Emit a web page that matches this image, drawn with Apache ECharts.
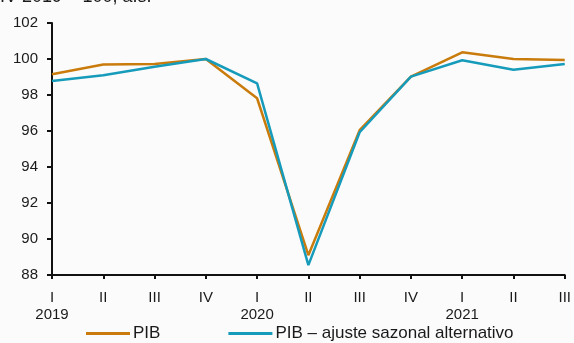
<!DOCTYPE html>
<html>
<head>
<meta charset="utf-8">
<script src="https://cdn.jsdelivr.net/npm/echarts@6/dist/echarts.min.js"></script>
<style>
  html, body { margin: 0; padding: 0; background: #fbfbfb; }
  #chart { width: 574px; height: 343px; }
</style>
</head>
<body>
<div id="chart"></div>
<script>
// Quarterly categories (quarter, with year on the first quarter)
const quarters = ['I\n2019', 'II', 'III', 'IV', 'I\n2020', 'II', 'III', 'IV', 'I\n2021', 'II', 'III'];

// GDP index, IV 2019 = 100, seasonally adjusted
const pib = [99.15, 99.7, 99.72, 100.0, 97.82, 89.1, 96.05, 99.02, 100.37, 100.0, 99.95];

// GDP with alternative seasonal adjustment
const pibAlt = [98.78, 99.1, 99.57, 100.0, 98.65, 88.55, 95.93, 99.02, 99.93, 99.4, 99.72];

const yMin = 88, yMax = 102, yStep = 2;

const chart = echarts.init(document.getElementById('chart'), null, { renderer: 'canvas' });

const axisColor = '#111';
const fontFamily = '"Liberation Sans", Arial, sans-serif';
const textStyle = { color: '#1a1a1a', fontFamily: fontFamily, fontSize: 15 };

chart.setOption({
  backgroundColor: '#fbfbfb',
  animation: false,
  graphic: [{
    type: 'text',
    left: 0,
    top: -12,
    style: { text: 'IV 2019 = 100, a.s.', fill: '#1a1a1a', font: '18px ' + fontFamily }
  }],
  grid: { left: 52, right: 6, top: 23, bottom: 68, containLabel: false },
  legend: {
    top: 325,
    left: 86,
    padding: 0,
    itemGap: 68,
    itemWidth: 44,
    itemHeight: 3,
    icon: 'rect',
    textStyle: Object.assign({}, textStyle, { fontSize: 17, padding: [0, 0, 0, -2] }),
    data: ['PIB', 'PIB – ajuste sazonal alternativo']
  },
  xAxis: {
    type: 'category',
    data: quarters,
    boundaryGap: false,
    axisLine: { lineStyle: { color: axisColor, width: 2 } },
    axisTick: { show: true, length: 4, lineStyle: { color: axisColor, width: 2 }, alignWithLabel: true },
    axisLabel: Object.assign({}, textStyle, { margin: 14, interval: 0, lineHeight: 17 }),
    splitLine: { show: false }
  },
  yAxis: {
    type: 'value',
    min: yMin,
    max: yMax,
    interval: yStep,
    axisLine: { show: true, lineStyle: { color: axisColor, width: 2 } },
    axisTick: { show: true, length: 5, lineStyle: { color: axisColor, width: 2 } },
    axisLabel: Object.assign({}, textStyle, { margin: 14 }),
    splitLine: { show: false }
  },
  series: [
    {
      name: 'PIB',
      type: 'line',
      data: pib,
      symbol: 'none',
      color: '#c97b0c',
      lineStyle: { width: 2.5, color: '#c97b0c' },
      z: 2
    },
    {
      name: 'PIB – ajuste sazonal alternativo',
      type: 'line',
      data: pibAlt,
      symbol: 'none',
      color: '#179bbb',
      lineStyle: { width: 2.5, color: '#179bbb' },
      z: 3
    }
  ]
});
</script>
</body>
</html>
